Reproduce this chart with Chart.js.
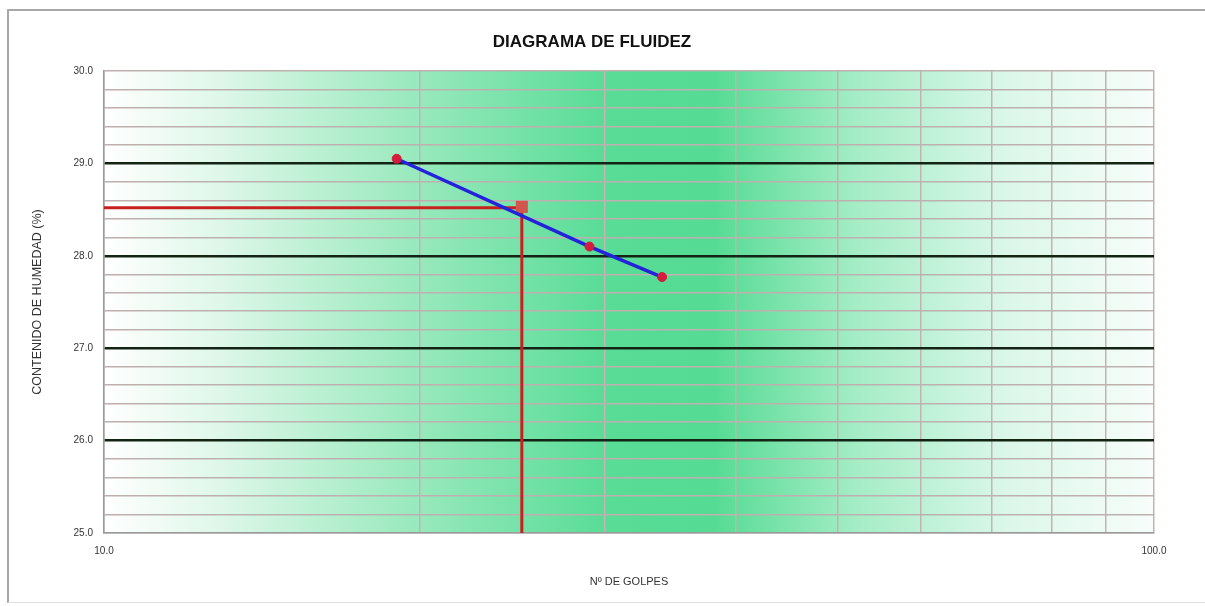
<!DOCTYPE html>
<html>
<head>
<meta charset="utf-8">
<script src="https://cdn.jsdelivr.net/npm/chart.js@4/dist/chart.umd.min.js"></script>
<style>
  html, body { margin: 0; padding: 0; background: #ffffff; }
  #wrap { position: relative; width: 1205px; height: 606px; overflow: hidden; }
  #frame { position: absolute; left: 7px; top: 9px; width: 1210px; height: 594px;
           border-left: 2px solid #a8a8a8; border-top: 2px solid #a8a8a8; border-bottom: 1px solid #e0e0e0; box-sizing: border-box; }
  canvas { position: absolute; left: 0; top: 0; }
</style>
</head>
<body>
<div id="wrap">
  <div id="frame"></div>
  <canvas id="c" width="1205" height="606"></canvas>
</div>
<script>
// ---- data ----
const golpes = [19, 29, 34];                 // Nº de golpes
const humedad = [29.05, 28.10, 27.77];       // contenido de humedad (%)
const refGolpes = [10, 25, 25];              // red guide line (25 golpes)
const refHumedad = [28.52, 28.52, 25];
const limiteX = [25];                        // liquid-limit marker
const limiteY = [28.53];
const xTickValues = [10, 20, 30, 40, 50, 60, 70, 80, 90, 100];
const xTickLabels = ['10.0', '', '', '', '', '', '', '', '', '100.0'];
const yMin = 25, yMax = 30, yStep = 0.2;

const toPts = (xs, ys) => xs.map((x, i) => ({ x: x, y: ys[i] }));

const bgPlugin = {
  id: 'bgGradient',
  beforeDraw(chart) {
    const { ctx, chartArea: a } = chart;
    const g = ctx.createLinearGradient(a.left, 0, a.right, 0);
    g.addColorStop(0.00, '#ffffff');
    g.addColorStop(0.10, '#e2f8eb');
    g.addColorStop(0.27, '#a2ebc3');
    g.addColorStop(0.48, '#58dc96');
    g.addColorStop(0.58, '#55db93');
    g.addColorStop(0.72, '#a6edc7');
    g.addColorStop(0.86, '#dbf7e9');
    g.addColorStop(1.00, '#f7fdfa');
    ctx.save();
    ctx.fillStyle = g;
    ctx.fillRect(a.left, a.top, a.right - a.left, a.bottom - a.top);
    ctx.restore();
  }
};

const isMajor = v => Math.abs(v - Math.round(v)) < 1e-6;

new Chart(document.getElementById('c'), {
  type: 'scatter',
  data: {
    datasets: [
      {
        label: 'Humedad',
        data: toPts(golpes, humedad),
        showLine: true,
        borderColor: '#2323dc',
        borderWidth: 3.5,
        pointRadius: 4.5,
        pointBorderWidth: 1,
        pointBackgroundColor: '#d41c3c',
        pointBorderColor: '#d41c3c',
        order: 0
      },
      {
        label: 'Límite líquido',
        data: toPts(limiteX, limiteY),
        pointStyle: 'rect',
        pointRadius: 8.5,
        pointBorderWidth: 0,
        pointBackgroundColor: '#d2564e',
        pointBorderColor: '#d2564e',
        order: 1
      },
      {
        label: '25 golpes',
        data: toPts(refGolpes, refHumedad),
        showLine: true,
        borderColor: '#c8201e',
        borderWidth: 3,
        pointRadius: 0,
        order: 2
      }
    ]
  },
  options: {
    responsive: false,
    devicePixelRatio: 1,
    animation: false,
    layout: { padding: { left: 30, right: 51, top: 0, bottom: 10 } },
    plugins: {
      legend: { display: false },
      tooltip: { enabled: false },
      title: {
        display: true,
        text: 'DIAGRAMA DE FLUIDEZ',
        color: '#111111',
        font: { family: "'Liberation Sans', Arial, sans-serif", size: 17, weight: 'bold' },
        padding: { top: 32, bottom: 18.6 }
      }
    },
    scales: {
      x: {
        type: 'logarithmic',
        min: 10,
        max: 100,
        afterBuildTicks(scale) { scale.ticks = xTickValues.map(v => ({ value: v })); },
        afterFit(scale) { scale.height = 63; },
        ticks: {
          autoSkip: false,
          maxRotation: 0,
          padding: 12,
          color: '#333333',
          font: { family: "'Liberation Sans Narrow', 'Liberation Sans', Arial, sans-serif", size: 10 },
          callback(value, index) { return xTickLabels[index]; }
        },
        grid: { drawTicks: false, color: '#c6b2b2', lineWidth: 1.5 },
        border: { color: '#9a9a9a', width: 1.5 },
        title: {
          display: true,
          text: 'Nº DE GOLPES',
          color: '#333333',
          font: { family: "'Liberation Sans Narrow', 'Liberation Sans', Arial, sans-serif", size: 11 },
          padding: { top: 0, bottom: 7.5 }
        }
      },
      y: {
        type: 'linear',
        min: yMin,
        max: yMax,
        afterFit(scale) { scale.width = 74; },
        ticks: {
          stepSize: yStep,
          autoSkip: false,
          padding: 11,
          color: '#333333',
          font: { family: "'Liberation Sans Narrow', 'Liberation Sans', Arial, sans-serif", size: 10 },
          callback(value) { return isMajor(value) ? Number(value).toFixed(1) : ''; }
        },
        grid: {
          drawTicks: false,
          color(ctx) {
            const v = ctx.tick ? ctx.tick.value : 0;
            if (isMajor(v) && v > yMin + 0.01 && v < yMax - 0.01) return '#142414';
            return '#bfb0b0';
          },
          lineWidth(ctx) {
            const v = ctx.tick ? ctx.tick.value : 0;
            if (isMajor(v) && v > yMin + 0.01 && v < yMax - 0.01) return 2.5;
            return 1.5;
          }
        },
        border: { color: '#9a9a9a', width: 1.5 },
        title: {
          display: true,
          text: 'CONTENIDO DE HUMEDAD (%)',
          color: '#333333',
          font: { family: "'Liberation Sans', Arial, sans-serif", size: 12.5 },
          padding: { top: 0, bottom: 0 }
        }
      }
    }
  },
  plugins: [bgPlugin]
});
</script>
</body>
</html>
